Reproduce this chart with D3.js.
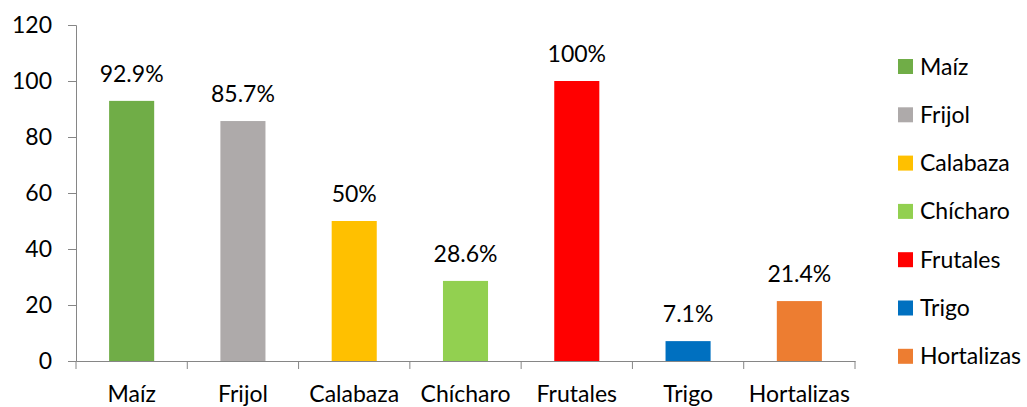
<!DOCTYPE html>
<html>
<head>
<meta charset="utf-8">
<script src="https://cdn.jsdelivr.net/npm/d3@7"></script>
<style>
  body { margin: 0; background: #fff; }
  svg text { font-family: Lato, "Open Sans", sans-serif; fill: #000; }
</style>
</head>
<body>
<div id="chart"></div>
<script>
var svgWidth = 1027, svgHeight = 407;

// datos
var cultivos = ["Maíz", "Frijol", "Calabaza", "Chícharo", "Frutales", "Trigo", "Hortalizas"];
var valores = [92.9, 85.7, 50, 28.6, 100, 7.1, 21.4];
var etiquetas = ["92.9%", "85.7%", "50%", "28.6%", "100%", "7.1%", "21.4%"];
var colores = ["#70AD47", "#AEAAAA", "#FFC000", "#92D050", "#FF0000", "#0070C0", "#ED7D31"];
var yTicks = [0, 20, 40, 60, 80, 100, 120];

var fs = "23px";

var svg = d3.select("#chart")
  .append("svg")
  .attr("width", svgWidth)
  .attr("height", svgHeight);

var x = d3.scaleBand()
  .domain(cultivos)
  .range([76, 855])
  .padding(0);

var y = d3.scaleLinear()
  .domain([0, 120])
  .range([361, 25]);

var barW = x.bandwidth() * 0.405;

// eje y
var yAxis = svg.append("g")
  .attr("transform", "translate(76,0)")
  .call(d3.axisLeft(y).tickValues(yTicks).tickSize(8).tickPadding(16));
yAxis.select(".domain").attr("stroke", "#868686");
yAxis.selectAll(".tick line").attr("stroke", "#868686");
yAxis.selectAll("text")
  .style("font-size", fs)
  .attr("fill", "#000");

// eje x
var xAxis = svg.append("g")
  .attr("transform", "translate(0,361)")
  .call(d3.axisBottom(x).tickSize(0).tickSizeOuter(0));
xAxis.select(".domain").attr("stroke", "#868686");
xAxis.selectAll("text")
  .style("font-size", fs)
  .attr("fill", "#000")
  .attr("y", 41)
  .attr("dy", 0);

// marcas entre categorias
var bordes = cultivos.map(d => x(d)).concat([x.range()[1]]);
svg.append("g")
  .selectAll("line")
  .data(bordes)
  .enter()
  .append("line")
  .attr("x1", d => d)
  .attr("x2", d => d)
  .attr("y1", 361)
  .attr("y2", 369)
  .attr("stroke", "#868686");

// barras
var groups = svg.append("g")
  .selectAll("g")
  .data(cultivos)
  .enter()
  .append("g");

groups.append("rect")
  .attr("x", d => x(d) + (x.bandwidth() - barW) / 2)
  .attr("y", (d, i) => y(valores[i]))
  .attr("width", barW)
  .attr("height", (d, i) => y(0) - y(valores[i]))
  .attr("fill", (d, i) => colores[i]);

groups.append("text")
  .text((d, i) => etiquetas[i])
  .attr("x", d => x(d) + x.bandwidth() / 2)
  .attr("y", (d, i) => y(valores[i]) - 19)
  .attr("text-anchor", "middle")
  .style("font-size", fs);

// leyenda
var legend = svg.append("g")
  .selectAll("g")
  .data(cultivos)
  .enter()
  .append("g")
  .attr("transform", (d, i) => "translate(898," + (59 + i * 48.3) + ")");

legend.append("rect")
  .attr("width", 15)
  .attr("height", 15)
  .attr("fill", (d, i) => colores[i]);

legend.append("text")
  .text(d => d)
  .attr("x", 22)
  .attr("y", 15.5)
  .style("font-size", fs);
</script>
</body>
</html>
